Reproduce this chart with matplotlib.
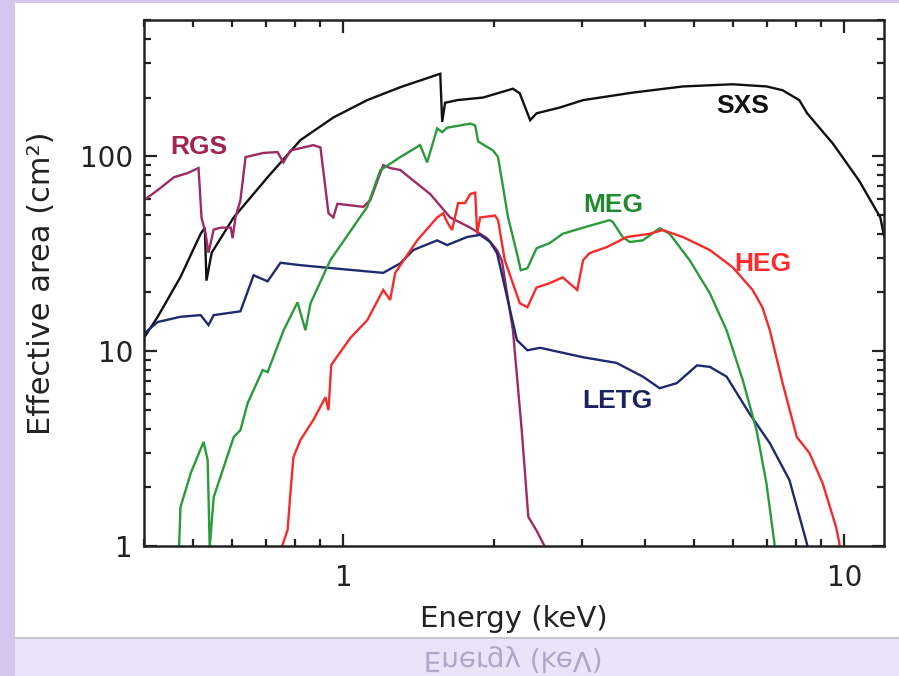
import numpy as np
import matplotlib
matplotlib.use("Agg")
import matplotlib.pyplot as plt
from matplotlib.patches import Rectangle
from matplotlib.patheffects import AbstractPathEffect
from matplotlib.transforms import Affine2D
from matplotlib.ticker import NullFormatter

# effective area curves, energy in keV, area in cm^2
sxs_e = [0.40, 0.426, 0.473, 0.519, 0.529, 0.533, 0.546, 0.604, 0.706, 0.821, 0.955, 1.116,
         1.299, 1.561, 1.575, 1.596, 1.687, 1.90, 2.18, 2.25, 2.36, 2.43, 2.71, 3.01, 3.78,
         4.76, 5.98, 7.0, 7.53, 8.13, 8.43, 9.49, 10.7, 11.8, 12.0]
sxs_a = [11.7, 15, 24, 40, 43, 23, 32, 48.5, 78, 121, 158, 194,
         226, 265, 150, 188, 194, 200, 222, 210, 153, 166, 178, 194, 212,
         228, 234, 228, 218, 194, 166, 116, 75, 48.5, 39]

rgs_e = [0.40, 0.426, 0.459, 0.489, 0.514, 0.521, 0.531, 0.538, 0.551, 0.569, 0.596, 0.601,
         0.609, 0.623, 0.638, 0.693, 0.739, 0.759, 0.784, 0.871, 0.900, 0.934, 0.955, 0.973,
         1.096, 1.132, 1.201, 1.240, 1.299, 1.379, 1.490, 1.634, 1.792, 1.935, 2.027, 2.073,
         2.18, 2.27, 2.34, 2.43, 2.52, 2.58]
rgs_a = [59.5, 67, 78, 82, 87, 48.5, 40, 32, 42, 43, 43, 38,
         48.5, 59.5, 99, 104, 105, 93, 107, 114, 111, 51, 48.5, 57,
         55, 59.5, 90, 87, 85, 75, 64, 48.5, 43, 38, 33, 29,
         12.8, 3.93, 1.41, 1.2, 1.0, 0.85]

letg_e = [0.40, 0.426, 0.473, 0.519, 0.538, 0.551, 0.623, 0.662, 0.706, 0.749, 0.821, 0.955,
          1.201, 1.299, 1.379, 1.539, 1.611, 1.766, 1.875, 1.963, 2.027, 2.22, 2.33, 2.47,
          3.01, 3.51, 3.96, 4.28, 4.63, 5.08, 5.39, 5.82, 6.46, 7.10, 7.77, 8.41, 8.51]
letg_a = [12.3, 14.1, 15, 15.3, 13.6, 15.3, 16, 24.5, 22.8, 28.4, 27.6, 26.6,
          25.2, 28.2, 33, 37, 35, 38.5, 39.5, 36.3, 31.8, 11.4, 10.1, 10.4,
          9.3, 8.7, 7.4, 6.45, 6.85, 8.45, 8.3, 7.4, 4.8, 3.37, 2.18, 1.04, 0.9]

meg_e = [0.469, 0.473, 0.496, 0.526, 0.536, 0.541, 0.551, 0.577, 0.604, 0.623, 0.644, 0.690,
         0.706, 0.760, 0.810, 0.840, 0.860, 0.942, 1.116, 1.185, 1.299, 1.423, 1.470, 1.539,
         1.575, 1.611, 1.792, 1.833, 1.858, 1.990, 2.036, 2.132, 2.23, 2.26, 2.33, 2.43,
         2.58, 2.74, 3.01, 3.40, 3.45, 3.61, 3.73, 3.96, 4.28, 4.48, 4.91, 5.39, 5.82,
         6.27, 6.68, 6.99, 7.25, 7.31]
meg_a = [0.85, 1.58, 2.37, 3.42, 2.76, 0.98, 1.78, 2.54, 3.62, 3.93, 5.4, 8,
         7.8, 12.8, 17.8, 12.8, 17.6, 29.3, 55, 84.7, 99, 114, 93, 139,
         133, 140, 147, 144, 119, 107, 99, 48.5, 30.4, 26, 26.6, 33.7,
         35.8, 40, 43, 47, 46, 38.5, 36.3, 37, 42.7, 40, 29.3, 19.8, 12.8,
         7.1, 3.93, 2.1, 1.04, 0.85]

heg_e = [0.739, 0.774, 0.784, 0.795, 0.821, 0.871, 0.921, 0.934, 0.946, 1.033, 1.116, 1.201,
         1.240, 1.269, 1.404, 1.539, 1.582, 1.611, 1.648, 1.695, 1.750, 1.792, 1.833, 1.850,
         1.875, 2.008, 2.036, 2.10, 2.25, 2.33, 2.43, 2.58, 2.74, 2.93, 3.01, 3.10, 3.36,
         3.68, 4.09, 4.34, 4.76, 5.39, 5.98, 6.56, 6.86, 7.10, 7.53, 8.04, 8.52, 9.05,
         9.63, 9.77, 9.86]
heg_a = [0.85, 1.21, 1.87, 2.86, 3.5, 4.43, 5.8, 4.98, 8.5, 11.7, 14.4, 20.6,
         18.3, 25.2, 37, 48.5, 51, 46, 41.8, 57.5, 57.5, 64, 65, 40,
         48.5, 49.6, 47, 29.3, 17.6, 16.8, 21.2, 22.3, 23.9, 20.6, 29.3, 31.8, 34.2,
         38.5, 40, 41.8, 38.5, 33, 27, 20.6, 16.8, 12.8, 6.85, 3.62, 3.0, 2.1,
         1.25, 1.04, 0.85]

names = ["SXS", "RGS", "LETG", "MEG", "HEG"]
label_e = [6.26, 0.514, 3.53, 3.45, 6.87]
label_a = [180, 111, 5.54, 56.1, 27.9]


class Mirror(AbstractPathEffect):
    # draws the text upside down, flipped about a line offset_pt above its baseline
    def __init__(self, offset_pt):
        super().__init__()
        self.offset_pt = offset_pt

    def draw_path(self, renderer, gc, tpath, affine, rgbFace=None):
        x0, y0 = affine.transform((0, 0))
        yc = y0 + renderer.points_to_pixels(self.offset_pt)
        flip = Affine2D().translate(0, -yc).scale(1, -1).translate(0, yc)
        renderer.draw_path(gc, tpath, affine + flip, rgbFace)


W, H = 899, 676
fig = plt.figure(figsize=(W / 100, H / 100), dpi=100)
fig.patch.set_facecolor("#d6c6ef")

# white slide panel, lavender floor with grey edge
fig.add_artist(Rectangle((15 / W, (H - 637) / H), 1 - 15 / W, 634 / H, zorder=-5,
                         transform=fig.transFigure, facecolor="white", edgecolor="none"))
fig.add_artist(Rectangle((15 / W, 0), 1 - 15 / W, (H - 639) / H, zorder=-5,
                         transform=fig.transFigure, facecolor="#ebe3f8", edgecolor="none"))
fig.add_artist(Rectangle((15 / W, (H - 639) / H), 1 - 15 / W, 2.5 / H, zorder=-5,
                         transform=fig.transFigure, facecolor="#c9c6cf", edgecolor="none"))

ax = fig.add_axes([144 / W, (H - 546) / H, 740 / W, 526 / H])
ax.set_facecolor("none")
ax.set_xscale("log")
ax.set_yscale("log")

cols = ["#111111", "#9e2a62", "#1f2a6e", "#2b9a3a", "#f52a2a"]
txtcols = ["#111111", "#a3224f", "#1c2260", "#1f8a2e", "#ff2a2a"]
curves = [(sxs_e, sxs_a), (rgs_e, rgs_a), (letg_e, letg_a), (meg_e, meg_a), (heg_e, heg_a)]
for (e, a), c in zip(curves, cols):
    ax.plot(e, a, color=c, lw=1.7, solid_joinstyle="miter")

for n, x, y, c in zip(names, label_e, label_a, txtcols):
    ax.text(x, y, n, color=c, fontsize=19, fontweight="bold", family="Liberation Sans",
            ha="center", va="center")

ax.set_xlim(0.4, 12)
ax.set_ylim(1, 500)

ax.set_xticks([1, 10])
ax.set_xticklabels(["1", "10"])
ax.set_yticks([1, 10, 100])
ax.set_yticklabels(["1", "10", "100"])
ax.xaxis.set_minor_formatter(NullFormatter())
ax.yaxis.set_minor_formatter(NullFormatter())
ax.tick_params(which="both", direction="in", top=True, right=True, width=1.6,
               colors="#222222", labelsize=20)
ax.tick_params(which="major", length=9)
ax.tick_params(which="minor", length=5)
ax.tick_params(axis="x", which="major", pad=13)
ax.tick_params(axis="y", which="major", pad=8)
for s in ax.spines.values():
    s.set_linewidth(1.8)
    s.set_color("#222222")

ax.set_xlabel("Energy (keV)", fontsize=21, color="#222222", va="center")
ax.xaxis.set_label_coords(0.5, -0.139)
ax.set_ylabel("Effective area (cm²)", fontsize=22, color="#222222", va="center")
ax.yaxis.set_label_coords(-0.139, 0.5)

# faint mirrored axis title on the floor
fig.text(513 / W, (H - 668) / H, "Energy (keV)", fontsize=20, color="#a89abf",
         alpha=0.85, ha="center", va="baseline", path_effects=[Mirror(5.8)])

fig.savefig("out.png", dpi=100)
